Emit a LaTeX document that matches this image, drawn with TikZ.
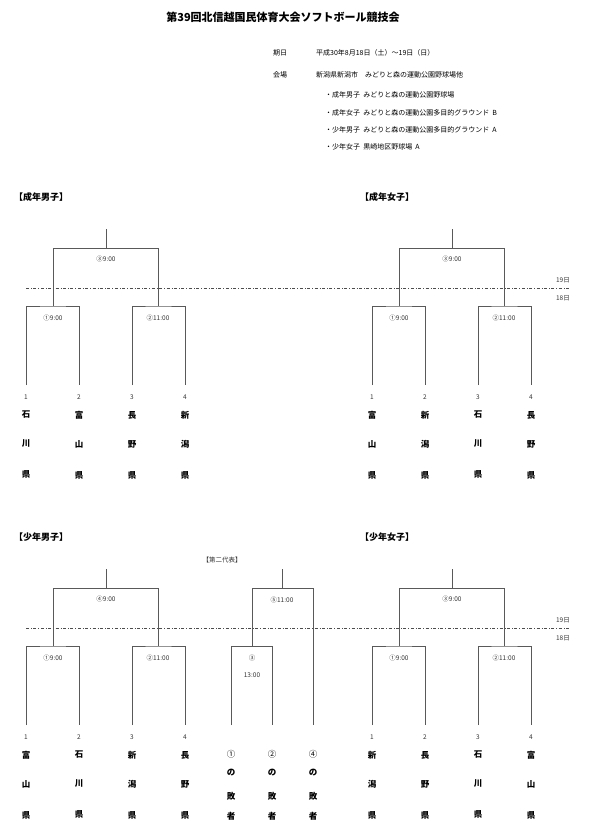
\documentclass[tikz,border=0pt]{standalone}
\usepackage{fontspec}
\setmainfont{Noto Sans CJK JP}
\usetikzlibrary{positioning}
\newcommand\prefvert[2]{#1\\[20pt]#2\\[22pt]県}
\begin{document}
\begin{tikzpicture}[x=1pt,y=-1pt,
    line/.style={draw, gray!70!black, line width=0.5pt},
    dayline/.style={draw, gray!60!black, dash dot, line width=0.4pt},
    time/.style={font=\fontsize{6.5}{7}\selectfont, text=gray!40!black, inner sep=0pt},
    seed/.style={font=\fontsize{6.5}{7}\selectfont, text=gray!40!black, inner sep=0pt},
    pref/.style={font=\fontsize{8.5}{9}\selectfont\bfseries, inner sep=0pt},
    head/.style={font=\fontsize{9}{10}\selectfont\bfseries, inner sep=0pt, anchor=west},
    info/.style={font=\fontsize{7}{8}\selectfont, inner sep=0pt, anchor=west}
]
    \useasboundingbox (0,0) rectangle (600,836);

    % Title and venue
    \node[font=\fontsize{11}{12}\selectfont\bfseries, inner sep=0pt] (title) at (283,17) {第39回北信越国民体育大会ソフトボール競技会};
    \node[info] (k1) at (273,53) {期日};
    \node[info] (d1) at (316,53) {平成30年8月18日（土）～19日（日）};
    \node[info] (k2) at (273,75) {会場};
    \node[info] (d2) at (316,75) {新潟県新潟市\quad みどりと森の運動公園野球場他};
    \node[info] (v1) at (325,95) {・成年男子\ \ みどりと森の運動公園野球場};
    \node[info] (v2) at (325,113) {・成年女子\ \ みどりと森の運動公園多目的グラウンド\ \ B};
    \node[info] (v3) at (325,130) {・少年男子\ \ みどりと森の運動公園多目的グラウンド\ \ A};
    \node[info] (v4) at (325,147) {・少年女子\ \ 黒崎地区野球場\ \ A};

    % Section heads
    \node[head] (h1) at (14,197) {【成年男子】};
    \node[head] (h2) at (360,197) {【成年女子】};
    \node[head] (h3) at (14,537) {【少年男子】};
    \node[head] (h4) at (360,537) {【少年女子】};

    % Day lines
    \foreach \yy/\nm in {0/a,340/b} {
        \coordinate (dl\nm) at (26,288+\yy);
        \coordinate (dr\nm) at (570,288+\yy);
        \draw[dayline] (dl\nm) -- (dr\nm);
        \node[seed, anchor=east] (d19\nm) at (570,280+\yy) {19日};
        \node[seed, anchor=east] (d18\nm) at (570,298+\yy) {18日};
    }

    % Four-team brackets
    \foreach \xx/\yy/\nm/\fin/\pa/\pb/\pc/\pd in {
        0/0/a/③/石川/富山/長野/新潟,
        346/0/b/③/富山/新潟/石川/長野,
        0/340/c/④/富山/石川/新潟/長野,
        346/340/d/③/新潟/長野/石川/富山} {
        \coordinate (top\nm) at (106+\xx,229+\yy);
        \coordinate (fin\nm) at (106+\xx,248+\yy);
        \coordinate (fl\nm) at (53+\xx,248+\yy);
        \coordinate (fr\nm) at (158+\xx,248+\yy);
        \coordinate (sl\nm) at (53+\xx,306+\yy);
        \coordinate (sr\nm) at (158+\xx,306+\yy);
        \draw[line] (top\nm) -- (fin\nm);
        \draw[line] (sl\nm) -- (fl\nm) -- (fr\nm) -- (sr\nm);
        \node[time] (tf\nm) at (106+\xx,259+\yy) {\fin 9:00};
        \node[time] (t1\nm) at (53+\xx,318+\yy) {①9:00};
        \node[time] (t2\nm) at (158+\xx,318+\yy) {②11:00};
        \foreach \i/\p in {1/\pa,2/\pb,3/\pc,4/\pd} {
            \pgfmathsetmacro{\cx}{26+53*(\i-1)+\xx}
            \coordinate (e\nm\i) at (\cx,385+\yy);
            \node[seed] (n\nm\i) at (\cx,397+\yy) {\i};
            \edef\preftext{\noexpand\prefvert\p}
            \node[pref, align=center] (p\nm\i) at (\cx,445+\yy) {\preftext};
        }
        \draw[line] (e\nm1) |- (sl\nm) -| (e\nm2);
        \draw[line] (e\nm3) |- (sr\nm) -| (e\nm4);
    }

    % Second-representative bracket
    \node[seed] (second) at (222,560) {【第二代表】};
    \coordinate (ftop) at (282,569);
    \coordinate (fmid) at (282,588);
    \coordinate (fl) at (252,588);
    \coordinate (fr) at (313,588);
    \coordinate (sl) at (231,646);
    \coordinate (sr) at (272,646);
    \coordinate (sm) at (252,646);
    \coordinate (x1) at (231,725);
    \coordinate (x2) at (272,725);
    \coordinate (x3) at (313,725);
    \draw[line] (ftop) -- (fmid);
    \draw[line] (sm) -- (fl) -- (fr) -- (x3);
    \draw[line] (x1) |- (sl) -| (x2);
    \node[time] (t5) at (282,600) {⑤11:00};
    \node[time] (t3) at (252,658) {③};
    \node[time] (t3b) at (252,675) {13:00};
    \foreach \i/\cx/\c in {1/231/①,2/272/②,3/313/④} {
        \node[pref, font=\fontsize{8.5}{9}\selectfont] (l\i) at (\cx,754) {\c};
        \node[pref] (lo\i) at (\cx,773) {の};
        \node[pref] (lb\i) at (\cx,796) {敗};
        \node[pref] (lc\i) at (\cx,816) {者};
    }
\end{tikzpicture}
\end{document}
